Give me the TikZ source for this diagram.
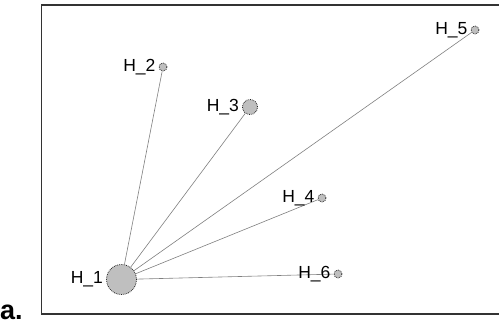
\documentclass[tikz,border=0pt]{standalone}
\usepackage{fontspec}
\setmainfont{Liberation Sans}
\begin{document}
\begin{tikzpicture}[x=1pt,y=-1pt,
  hub/.style={circle,draw=black!85,densely dotted,fill=black!25,inner sep=0pt,line width=0.8pt},
  lbl/.style={anchor=east,inner sep=0pt,xshift=-3pt,font=\fontsize{17.5}{20}\selectfont},
  edge/.style={draw=black!50,line width=0.6pt}]
\useasboundingbox (0,0) rectangle (499,325);
\fill[white] (0,0) rectangle (499,325);
\draw[line width=1.4pt,black!80] (500,5) -- (41.5,5) -- (41.5,314) -- (500,314);
\node[hub,minimum size=30pt] (h1) at (121.5,279.5) {};
\node[hub,minimum size=8pt] (h2) at (163,67) {};
\node[hub,minimum size=15pt] (h3) at (250,107) {};
\node[hub,minimum size=8pt] (h4) at (322,198) {};
\node[hub,minimum size=8pt] (h5) at (475,30) {};
\node[hub,minimum size=8pt] (h6) at (338,274) {};
\foreach \n in {h2,h3,h4,h5,h6} \draw[edge] (h1) -- (\n);
\node[lbl] (l1) at (h1.west) {H\_1};
\node[lbl] (l2) at (h2.west) {H\_2};
\node[lbl] (l3) at (h3.west) {H\_3};
\node[lbl] (l4) at (h4.west) {H\_4};
\node[lbl] (l5) at (h5.west) {H\_5};
\node[lbl] (l6) at (h6.west) {H\_6};
\node[anchor=base west,inner sep=0pt,font=\fontsize{27}{30}\selectfont\bfseries] (a) at (0,319) {a.};
\end{tikzpicture}
\end{document}
